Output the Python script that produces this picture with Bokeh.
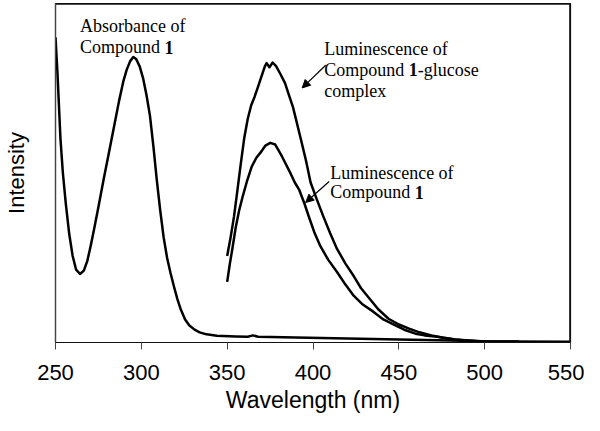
from bokeh.plotting import figure
from bokeh.models import Range1d, Label, Arrow, NormalHead, FixedTicker
from bokeh.embed import file_html
from bokeh.resources import INLINE

# ---- data ----
x_ticks = [250, 300, 350, 400, 450, 500, 550]

abs_wl = [250, 251.1, 252.0, 252.9, 254.3, 256, 258, 260, 262, 264.3, 266.5, 268.5, 270.5,
          272.5, 275, 278, 281, 284, 287, 289.5, 291.5, 293.5, 295.3, 297, 299, 301, 303,
          305, 307, 309, 311, 313, 315, 317, 319, 321, 323, 325.5, 328, 331, 334, 338,
          344, 355, 362, 365, 368, 390, 420, 450, 480, 505, 550]
abs_int = [0.90, 0.80, 0.70, 0.60, 0.50, 0.41, 0.32, 0.255, 0.215, 0.202, 0.212, 0.240,
           0.285, 0.335, 0.40, 0.48, 0.557, 0.634, 0.712, 0.77, 0.805, 0.83, 0.842, 0.836,
           0.815, 0.78, 0.73, 0.67, 0.58, 0.48, 0.39, 0.31, 0.25, 0.205, 0.165, 0.128,
           0.097, 0.068, 0.05, 0.038, 0.030, 0.024, 0.020, 0.018, 0.017, 0.021, 0.017,
           0.015, 0.012, 0.009, 0.006, 0.003, 0.002]

cplx_wl = [350, 352, 354, 356, 358, 360, 362, 364, 366, 368, 370, 372, 373, 374.6, 376.5,
           378.5, 381, 383.7, 386, 388.3, 390.5, 393, 396, 398.6, 402, 406, 410, 414, 419,
           423.7, 428, 433, 438, 444, 450, 456, 462, 469, 476, 483, 490, 498, 520]
cplx_int = [0.255, 0.31, 0.372, 0.45, 0.53, 0.605, 0.66, 0.70, 0.725, 0.755, 0.785, 0.815,
            0.824, 0.812, 0.826, 0.815, 0.792, 0.765, 0.73, 0.695, 0.65, 0.598, 0.535,
            0.472, 0.425, 0.372, 0.322, 0.276, 0.232, 0.196, 0.160, 0.129, 0.098, 0.070,
            0.053, 0.041, 0.030, 0.021, 0.014, 0.009, 0.005, 0.003, 0.002]

cmp_wl = [350, 351.5, 353, 355, 357, 359, 361.5, 364.3, 367, 369.4, 372.3, 375.1, 378,
          379.7, 382, 384.3, 387, 389.4, 392, 395, 398, 401, 404.3, 409, 414, 419, 423.7,
          429, 435.1, 441, 448.3, 454, 459.7, 465, 471.1, 482.6, 499.7, 520]
cmp_int = [0.179, 0.23, 0.276, 0.34, 0.39, 0.43, 0.475, 0.519, 0.545, 0.560, 0.581, 0.589,
           0.584, 0.569, 0.548, 0.525, 0.498, 0.472, 0.45, 0.41, 0.365, 0.322, 0.284,
           0.243, 0.208, 0.170, 0.138, 0.112, 0.091, 0.068, 0.050, 0.036, 0.026, 0.021,
           0.018, 0.009, 0.003, 0.002]

# annotation texts
abs_text = ["Absorbance of", "Compound ", "1"]
lum1_text = ["Luminescence of", "Compound ", "1", "-glucose", "complex"]
lum2_text = ["Luminescence of", "Compound ", "1"]

SERIF = "Liberation Serif"
SANS = "Liberation Sans"

X0, X1 = 250, 550
Y0, Y1 = 0, 1

p = figure(width=584, height=415, output_backend="svg", toolbar_location=None,
           x_range=Range1d(X0, X1), y_range=Range1d(Y0, Y1),
           min_border_left=53, min_border_right=14, min_border_top=3, min_border_bottom=0)

for xs, ys in [(abs_wl, abs_int), (cplx_wl, cplx_int), (cmp_wl, cmp_int)]:
    p.line(xs, ys, line_color="black", line_width=2.5, line_join="round")

# frame box: top and right edges (left/bottom are the axes)
p.line([X0, X1, X1], [Y1, Y1, Y0], line_color="#111111", line_width=2.6)

p.xgrid.visible = False
p.ygrid.visible = False
p.outline_line_color = "#111111"
p.outline_line_width = 1.2
p.background_fill_color = "white"
p.border_fill_color = "white"

p.xaxis.ticker = FixedTicker(ticks=x_ticks)
p.xaxis.minor_tick_line_color = None
p.xaxis.major_tick_in = 0
p.xaxis.major_tick_out = 7
p.xaxis.major_tick_line_color = "#444444"
p.xaxis.axis_line_color = "#111111"
p.xaxis.axis_line_width = 1.2
p.xaxis.major_label_text_font = SANS
p.xaxis.major_label_text_font_size = "22px"
p.xaxis.major_label_text_color = "black"
p.xaxis.major_label_standoff = 15
p.xaxis.axis_label = "Wavelength (nm)"
p.xaxis.axis_label_text_font = SANS
p.xaxis.axis_label_text_font_style = "normal"
p.xaxis.axis_label_text_font_size = "23px"
p.xaxis.axis_label_text_color = "black"
p.xaxis.axis_label_standoff = 4

p.yaxis.ticker = FixedTicker(ticks=[])
p.yaxis.minor_tick_line_color = None
p.yaxis.major_label_text_font_size = "0px"
p.yaxis.axis_line_color = "#444444"
p.yaxis.axis_line_width = 1.2
p.yaxis.axis_label = "Intensity"
p.yaxis.axis_label_text_font = SANS
p.yaxis.axis_label_text_font_style = "normal"
p.yaxis.axis_label_text_font_size = "22px"
p.yaxis.axis_label_text_color = "black"
p.yaxis.axis_label_standoff = 27


def lab(x, y, text, dx=0, bold=False):
    p.add_layout(Label(x=x, y=y, x_offset=dx, text=text, text_font=SERIF,
                       text_font_size="18px", text_color="black",
                       text_font_style="bold" if bold else "normal",
                       text_baseline="alphabetic", text_align="left"))


W_COMPOUND = 84.5   # width of "Compound " at 18px Times
W_ONE = 9.0

# Absorbance label
lab(264.3, 0.933, abs_text[0])
lab(264.3, 0.871, abs_text[1])
lab(264.3, 0.871, abs_text[2], dx=W_COMPOUND, bold=True)

# Luminescence of complex
lab(406.6, 0.865, lum1_text[0])
lab(406.6, 0.804, lum1_text[1])
lab(406.6, 0.804, lum1_text[2], dx=W_COMPOUND, bold=True)
lab(406.6, 0.804, lum1_text[3], dx=W_COMPOUND + W_ONE)
lab(406.6, 0.742, lum1_text[4])

# Luminescence of compound 1
lab(410.0, 0.501, lum2_text[0])
lab(410.0, 0.443, lum2_text[1])
lab(410.0, 0.443, lum2_text[2], dx=W_COMPOUND, bold=True)

# arrows
for (xs, ys, xe, ye) in [(407.4, 0.818, 393.7, 0.751), (409.4, 0.475, 395.7, 0.413)]:
    p.add_layout(Arrow(x_start=xs, y_start=ys, x_end=xe, y_end=ye,
                       line_color="black", line_width=1.2,
                       end=NormalHead(size=8, fill_color="black", line_color="black")))

open("out.html", "w").write(file_html(p, INLINE))
